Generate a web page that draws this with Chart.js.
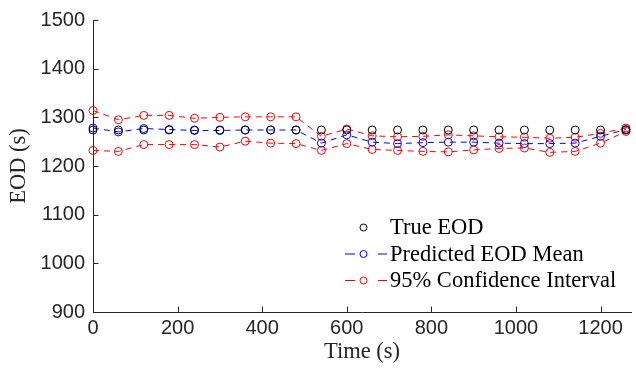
<!DOCTYPE html>
<html>
<head>
<meta charset="utf-8">
<script src="https://cdn.jsdelivr.net/npm/chart.js@4.4.1/dist/chart.umd.min.js"></script>
<style>
  html, body { margin: 0; padding: 0; background: #fff; }
  canvas { display: block; }
</style>
</head>
<body>
<canvas id="eod" width="636" height="368"></canvas>
<script>
// time stamps (s)
const TIMES = [0, 60, 120, 180, 240, 300, 360, 420, 480, 540, 600,
               660, 720, 780, 840, 900, 960, 1020, 1080, 1140, 1200, 1260];

const TRUE_EOD = [1274, 1274, 1274, 1274, 1274, 1274, 1274, 1274, 1274, 1274, 1274,
                  1274, 1274, 1274, 1274, 1274, 1274, 1274, 1274, 1274, 1274, 1274];

const PRED_MEAN = [1278, 1270, 1277, 1275, 1273, 1273, 1274, 1274, 1274, 1247, 1264,
                   1249, 1246, 1248, 1249, 1249, 1247, 1246, 1246, 1247, 1261, 1275];

const CI_UPPER = [1314, 1295, 1304, 1304, 1298, 1300, 1301, 1301, 1301, 1261, 1276,
                  1262, 1260, 1261, 1264, 1262, 1260, 1259, 1257, 1259, 1267, 1278];

const CI_LOWER = [1232, 1230, 1244, 1244, 1244, 1239, 1251, 1247, 1246, 1232, 1246,
                  1234, 1232, 1230, 1229, 1233, 1236, 1237, 1228, 1230, 1247, 1271];

const X_TICKS = [0, 200, 400, 600, 800, 1000, 1200];
const Y_TICKS = [900, 1000, 1100, 1200, 1300, 1400, 1500];

const LEGEND = ['True EOD', 'Predicted EOD Mean', '95% Confidence Interval'];

const AXIS = '#262626';
const SERIF = '"Liberation Serif", "Times New Roman", serif';
const SANS = '"Liberation Sans", Arial, sans-serif';

const pts = arr => TIMES.map((t, i) => ({ x: t, y: arr[i] }));

/** MATLAB-ish '--o' series */
function markerDS(label, data, color, dashed) {
  return {
    label,
    data: pts(data),
    borderColor: color,
    backgroundColor: 'transparent',
    borderWidth: 1,
    borderDash: dashed ? [6, 5] : [],
    showLine: dashed,
    pointStyle: 'circle',
    pointRadius: 4,
    pointBorderWidth: 1,
    pointBackgroundColor: 'transparent',
    pointBorderColor: color,
    tension: 0,
    clip: false,
  };
}

// inward tick marks, drawn from the scales' own ticks
const innerTicks = {
  id: 'innerTicks',
  afterDraw(chart) {
    const { ctx, chartArea: a, scales: { x, y } } = chart;
    ctx.save();
    ctx.strokeStyle = AXIS;
    ctx.lineWidth = 1;
    ctx.beginPath();
    x.ticks.forEach(t => {
      const px = Math.round(x.getPixelForValue(t.value)) + 0.5;
      ctx.moveTo(px, a.bottom);
      ctx.lineTo(px, a.bottom - 5.5);
    });
    y.ticks.forEach(t => {
      const py = Math.round(y.getPixelForValue(t.value)) + 0.5;
      ctx.moveTo(a.left, py);
      ctx.lineTo(a.left + 5.5, py);
    });
    ctx.stroke();
    ctx.restore();
  },
};

// legend inside the axes, no box
const innerLegend = {
  id: 'innerLegend',
  afterDraw(chart) {
    const { ctx } = chart;
    const ds = chart.data.datasets;
    const x0 = 345, x1 = 387, mx = 363.5, tx = 390;
    ctx.save();
    ctx.font = '22.5px ' + SERIF;
    ctx.textBaseline = 'alphabetic';
    ctx.fillStyle = '#000';
    LEGEND.forEach((label, i) => {
      const d = ds[i];
      const base = 234 + i * 26.5;
      const my = base - 6.5;
      ctx.strokeStyle = d.borderColor;
      ctx.lineWidth = 1;
      if (d.showLine) {
        ctx.setLineDash([10, 23]);
        ctx.beginPath();
        ctx.moveTo(x0, my);
        ctx.lineTo(x1, my);
        ctx.stroke();
        ctx.setLineDash([]);
      }
      ctx.beginPath();
      ctx.arc(mx, my, 3.5, 0, Math.PI * 2);
      ctx.stroke();
      ctx.fillText(label, tx, base);
    });
    ctx.restore();
  },
};

const plain = v => String(v);

new Chart(document.getElementById('eod'), {
  type: 'line',
  data: {
    datasets: [
      markerDS('True EOD', TRUE_EOD, '#000000', false),
      markerDS('Predicted EOD Mean', PRED_MEAN, '#0000ff', true),
      markerDS('95% Confidence Interval', CI_UPPER, '#ff0000', true),
      markerDS('95% Confidence Interval (lower)', CI_LOWER, '#ff0000', true),
    ],
  },
  options: {
    responsive: false,
    animation: false,
    layout: { padding: { top: 18, right: 0, left: 0, bottom: 0 } },
    plugins: { legend: { display: false }, tooltip: { enabled: false } },
    scales: {
      x: {
        type: 'linear',
        min: 0,
        max: 1272,
        afterBuildTicks: s => { s.ticks = X_TICKS.map(v => ({ value: v })); },
        afterFit: s => { s.height = 56; },
        grid: { display: false, drawTicks: false },
        border: { display: true, color: AXIS, width: 1 },
        ticks: { color: AXIS, font: { family: SANS, size: 20 }, padding: 4, maxRotation: 0, autoSkip: false, callback: plain },
        title: { display: true, text: 'Time (s)', color: AXIS, font: { family: SERIF, size: 22.5 }, padding: { top: 0, bottom: 2 } },
      },
      y: {
        type: 'linear',
        min: 900,
        max: 1500,
        afterBuildTicks: s => { s.ticks = Y_TICKS.map(v => ({ value: v })); },
        afterFit: s => { s.width = 93; },
        grid: { display: false, drawTicks: false },
        border: { display: true, color: AXIS, width: 1 },
        ticks: { color: AXIS, font: { family: SANS, size: 20 }, padding: 8, autoSkip: false, callback: plain },
        title: { display: true, text: 'EOD (s)', color: AXIS, font: { family: SERIF, size: 22.5 }, padding: { top: 6, bottom: 0 } },
      },
    },
  },
  plugins: [innerTicks, innerLegend],
});
</script>
</body>
</html>
